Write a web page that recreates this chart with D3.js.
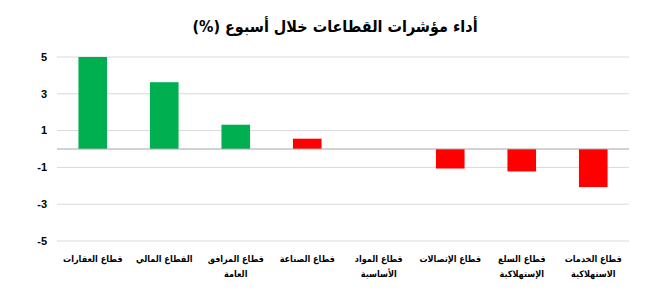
<!DOCTYPE html>
<html>
<head>
<meta charset="utf-8">
<script src="https://cdn.jsdelivr.net/npm/d3@7"></script>
<style>
  body { margin: 0; background: #fff; }
  svg text { font-family: "DejaVu Sans Condensed", "DejaVu Sans", sans-serif; font-stretch: condensed; }
  svg text.num { font-family: "Liberation Sans", Arial, sans-serif; font-stretch: normal; }
</style>
</head>
<body>
<div id="chart"></div>
<script>
// ====[ Data ]====
const categories = [
    ['قطاع العقارات'],
    ['القطاع المالي'],
    ['قطاع المرافق', 'العامة'],
    ['قطاع الصناعة'],
    ['قطاع المواد', 'الأساسية'],
    ['قطاع الإتصالات'],
    ['قطاع السلع', 'الإستهلاكية'],
    ['قطاع الخدمات', 'الاستهلاكية']
]
const values = [5.0, 3.63, 1.32, 0.56, 0, -1.06, -1.22, -2.07]
const yTicks = [5, 3, 1, -1, -3, -5]
const titleText = 'أداء مؤشرات القطاعات خلال أسبوع (%)'

// bar fill per category (as in the original)
const barColors = ['#00b050', '#00b050', '#00b050', '#ff0000', '#ff0000', '#ff0000', '#ff0000', '#ff0000']

// ====[ Layout ]====
const svgw = 672, svgh = 302
const margin = {left: 57, right: 43, top: 57, bottom: 61}

let svg = d3.select('#chart').append('svg')
    .attr('width', svgw)
    .attr('height', svgh)

let x = d3.scaleBand()
    .domain(d3.range(categories.length))
    .range([margin.left, svgw - margin.right])
    .paddingInner(0.6)
    .paddingOuter(0.3)

let y = d3.scaleLinear()
    .domain([-5, 5])
    .range([svgh - margin.bottom, margin.top])

// title
svg.append('text')
    .attr('x', 335)
    .attr('y', 32)
    .attr('text-anchor', 'middle')
    .attr('direction', 'rtl')
    .style('font-size', '16px')
    .style('font-weight', 'bold')
    .text(titleText)

// gridlines
svg.append('g').selectAll('line')
    .data(yTicks)
    .enter()
    .append('line')
    .attr('x1', margin.left)
    .attr('x2', svgw - margin.right)
    .attr('y1', d => y(d))
    .attr('y2', d => y(d))
    .attr('stroke', '#d9d9d9')
    .attr('stroke-width', 1)

// y tick labels
svg.append('g').selectAll('text')
    .data(yTicks)
    .enter()
    .append('text')
    .classed('num', true)
    .attr('x', 47)
    .attr('y', d => y(d))
    .attr('dy', '0.35em')
    .attr('text-anchor', 'end')
    .style('font-size', '11px')
    .style('font-weight', 'bold')
    .text(d => d)

// bars
svg.append('g').selectAll('rect')
    .data(values)
    .enter()
    .append('rect')
    .attr('x', (d, i) => x(i))
    .attr('width', x.bandwidth())
    .attr('y', d => y(Math.max(0, d)))
    .attr('height', d => Math.abs(y(d) - y(0)))
    .attr('fill', (d, i) => barColors[i])

// zero line
svg.append('line')
    .attr('x1', margin.left)
    .attr('x2', svgw - margin.right)
    .attr('y1', y(0))
    .attr('y2', y(0))
    .attr('stroke', '#a6a6a6')
    .attr('stroke-width', 1)

// category labels, one text per line so each stays centred
categories.forEach((lines, i) => {
    lines.forEach((t, k) => {
        svg.append('text')
            .attr('x', x(i) + x.bandwidth() / 2)
            .attr('y', 262 + k * 15)
            .attr('text-anchor', 'middle')
            .style('font-size', '9px')
            .style('font-weight', 'bold')
            .text(t)
    })
})
</script>
</body>
</html>
